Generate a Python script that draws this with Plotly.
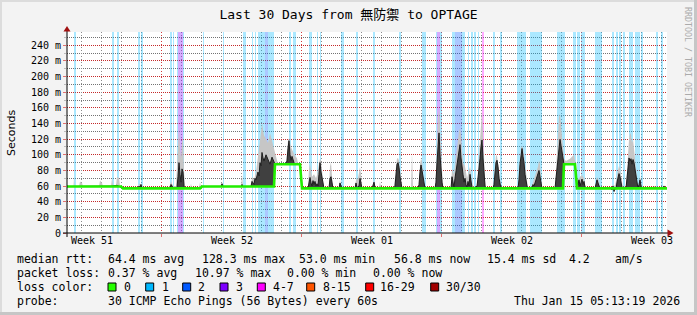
import plotly.graph_objects as go

# ---------------- data (time axis in days since start of window) ----------------
loss_start = [0.325, 2.25, 2.5, 3.55, 3.7, 5.15, 5.275, 5.5, 5.55, 5.8, 6.8, 7.8, 8.8, 9.25, 9.4, 9.55, 9.9, 10.05,
              11.1, 11.3, 12.1, 12.5, 12.65, 13.7, 14.45, 15.3, 16.6, 17.75, 17.85, 18.45, 18.5, 18.65, 19.25, 19.4,
              19.75, 20.025, 20.2, 20.35, 20.525, 20.75, 21.3, 21.65, 22.5, 23.15, 24.5, 25.3, 25.5, 25.7, 26.4,
              27.25, 27.425, 27.6, 27.8, 28.1, 28.375, 28.7, 29.425, 29.7]
loss_end = [0.425, 2.35, 2.6, 3.65, 3.8, 5.25, 5.35, 5.55, 5.8, 5.85, 6.85, 7.85, 8.95, 9.3, 9.45, 9.9, 10.05, 10.35,
            11.2, 11.45, 12.25, 12.55, 12.7, 13.85, 14.525, 15.4, 16.7, 17.825, 17.925, 18.5, 18.65, 18.75, 19.4, 19.75,
            19.9, 20.1, 20.275, 20.45, 20.6, 20.825, 21.4, 21.75, 22.95, 23.75, 24.875, 25.425, 25.65, 25.875, 26.75,
            27.35, 27.525, 27.7, 27.9, 28.3, 28.65, 28.8, 29.525, 29.775]
loss_level = [1, 1, 1, 1, 1, 1, 1, 1, 3, 1, 1, 1, 1, 1, 1, 1, 2, 1,
              1, 1, 1, 1, 1, 1, 1, 1, 1, 1, 1, 1, 3, 1, 1, 2,
              1, 1, 1, 1, 1, 4, 1, 1, 1, 1, 1, 1, 1, 1, 1,
              1, 1, 1, 1, 1, 1, 1, 1, 1]

med_t = [0, 2.2, 2.25, 2.5, 2.6, 2.7, 2.8, 3.55, 3.6, 3.65, 3.7, 3.75, 5.15, 5.2, 5.3, 5.4, 5.5, 5.55, 5.6, 5.65,
         5.7, 5.75, 5.8, 5.85, 5.9, 6.65, 6.75, 7.7, 7.75, 7.8, 8.7, 8.75, 8.8, 9.2, 9.25, 9.35, 9.4, 9.45, 9.55,
         9.6, 9.65, 9.7, 9.75, 9.8, 9.85, 9.95, 10.05, 10.15, 10.25, 10.35, 10.4, 10.9, 11.0, 11.05, 11.1, 11.15,
         11.2, 11.25, 11.3, 11.35, 11.4, 11.65, 11.7, 11.75,
         12.05, 12.1, 12.15, 12.2, 12.25, 12.3, 12.35, 12.4, 12.45, 12.5, 12.55, 12.6, 12.65, 12.7, 12.75, 12.8,
         12.85, 13.1, 13.15, 13.2, 13.25, 13.3, 13.6, 13.65, 13.7, 13.75, 14.4, 14.45, 14.5, 14.6, 14.65, 14.7, 14.75,
         15.25, 15.3, 15.35, 15.4, 15.45, 15.65, 15.7, 15.75, 16.35, 16.4, 16.45, 16.5, 16.55, 16.6, 16.65, 16.7,
         16.75, 17.55, 17.6, 17.65, 17.7, 17.75, 17.8, 17.85, 17.9, 18.4, 18.45, 18.5, 18.55, 18.6, 18.65, 18.7,
         18.75, 18.8, 19.2, 19.25, 19.3, 19.35, 19.4, 19.45, 19.5, 19.55, 19.6, 19.65, 19.7, 19.75, 19.8, 19.85,
         19.9, 19.95, 20.0, 20.05, 20.1, 20.15, 20.2, 20.25, 20.35, 20.5, 20.55, 20.6, 20.65, 20.7, 20.75, 20.8,
         20.85, 20.9, 20.95,
         21.3, 21.35, 21.4, 21.45, 21.5, 21.55, 21.6, 21.65, 21.7, 22.55, 22.6, 22.65, 22.7, 22.75, 22.8, 22.85,
         22.9, 22.95, 23.0, 23.05, 23.2, 23.25, 23.3, 23.35, 23.4, 23.45, 23.5, 23.55, 23.6, 23.65, 23.7, 23.75,
         24.4, 24.45, 24.5, 24.55, 24.6, 24.65, 24.7, 24.75, 24.8, 24.85, 25.4, 25.45, 25.5, 25.55, 25.6, 25.65,
         25.7, 25.75, 25.8, 25.85, 25.9, 25.95, 26.4, 26.45, 26.5, 26.55, 26.6, 26.65, 27.2, 27.25, 27.3, 27.35,
         27.4, 27.45, 27.5, 27.55, 27.6, 27.65, 27.7, 27.75, 27.8, 27.95, 28.0, 28.05, 28.1, 28.15, 28.2, 28.25,
         28.3, 28.35, 28.4, 28.45, 28.5, 28.55, 28.6, 28.65, 28.7, 28.75, 29.35, 29.4, 29.45, 29.8, 29.85, 29.9, 30.0]
med_v = [59.5, 59.5, 60, 61, 60, 58, 57, 57, 60, 58, 62, 57, 57, 62, 58, 57, 58, 72, 90, 75,
         65, 82, 78, 60, 57, 57, 59.5, 59.5, 63, 59.5, 59.5, 62, 59.5, 59.5, 66, 62, 70, 68, 78,
         73, 90, 86, 103, 96, 92, 100, 94, 88, 97, 90, 88, 88, 92, 108, 118, 100,
         93, 98, 92, 90, 88, 88, 75, 57,
         57, 67, 71, 64, 60, 67, 62, 66, 60, 63, 60, 75, 90, 78, 72, 62,
         57, 57, 70, 72, 60, 57, 57, 64, 60, 57, 57, 64, 58, 60, 70, 64, 57,
         57, 62, 65, 58, 57, 57, 59, 57, 57, 60, 78, 88, 90, 84, 72, 62,
         57, 57, 62, 78, 87, 80, 70, 60, 57, 57, 65, 90, 112, 128, 100, 80,
         65, 57, 57, 72, 65, 58, 70, 80, 90, 100, 108, 113, 96, 82, 75, 65,
         70, 62, 58, 66, 60, 75, 62, 58, 57, 60, 70, 80, 95, 110, 119, 96,
         75, 60, 57,
         57, 62, 80, 90, 93, 85, 70, 62, 57, 57, 68, 88, 100, 108, 98, 90,
         75, 65, 60, 57, 57, 58, 62, 60, 64, 66, 70, 76, 80, 72, 63, 57,
         57, 70, 85, 100, 110, 120, 112, 104, 95, 88, 88, 75, 64, 62, 68, 60,
         66, 69, 62, 66, 58, 57, 57, 62, 68, 64, 60, 57, 57, 55, 60, 53,
         57, 56, 65, 70, 76, 72, 63, 58, 57, 57, 70, 85, 96, 92, 95, 88,
         94, 90, 80, 70, 60, 57, 62, 68, 60, 57, 57, 59, 57, 57, 60, 57, 56.8]

base_t = [0, 2.7, 2.8, 6.65, 6.75, 10.35, 10.4, 11.65, 11.75, 24.8, 24.85, 25.4, 25.5, 30.0]
base_v = [59.5, 59.5, 57, 57, 59.5, 59.5, 88, 88, 57, 57, 88, 88, 57, 57]

smoke_t = [0, 0.325, 0.35, 0.375, 0.6, 0.65, 0.75, 0.8, 1.6, 1.65, 1.75, 1.8, 2.2, 2.25, 2.3, 2.45, 2.5, 2.6, 2.65,
           2.7, 2.8, 3.55, 3.6, 3.75, 3.8, 5.1, 5.2, 5.3, 5.45, 5.55, 5.6, 5.65, 5.7, 5.75, 5.8, 5.85, 5.9,
           6.15, 6.2, 6.25, 6.6, 6.65, 6.7, 6.75, 7.7, 7.75, 7.8, 8.7, 8.75, 8.8, 9.2, 9.25, 9.35, 9.45, 9.55,
           9.65, 9.75, 9.85, 9.95, 10.05, 10.15, 10.25, 10.35, 10.45, 10.55, 10.65, 10.95, 11.05, 11.1, 11.2,
           11.3, 11.4, 11.5, 11.55, 11.65, 11.7, 11.75,
           12.05, 12.1, 12.15, 12.25, 12.35, 12.45, 12.5, 12.6, 12.65, 12.7, 12.8, 12.85, 13.1, 13.15, 13.2,
           13.25, 13.3, 13.6, 13.65, 13.7, 14.4, 14.45, 14.55, 14.65, 14.7, 14.75, 15.3, 15.35, 15.4, 15.6,
           15.65, 15.7, 16.35, 16.45, 16.5, 16.55, 16.6, 16.65, 16.75, 17.2, 17.25, 17.3, 17.6, 17.65, 17.7,
           17.75, 17.8, 17.85, 17.9, 18.4, 18.45, 18.5, 18.55, 18.6, 18.65, 18.7, 18.75, 18.8, 19.2, 19.25,
           19.35, 19.45, 19.55, 19.6, 19.65, 19.7, 19.75, 19.8, 19.9, 20.0, 20.15, 20.25, 20.35, 20.5, 20.55,
           20.65, 20.7, 20.75, 20.8, 20.85, 20.9, 20.95,
           21.3, 21.35, 21.4, 21.45, 21.5, 21.55, 21.65, 21.7, 22.55, 22.6, 22.65, 22.7, 22.75, 22.8, 22.85,
           22.95, 23.05, 23.2, 23.35, 23.45, 23.55, 23.6, 23.65, 23.7, 23.75, 24.4, 24.45, 24.5, 24.55, 24.6,
           24.65, 24.7, 24.75, 24.8, 24.85, 24.95, 25.15, 25.35, 25.4, 25.45, 25.5, 25.55, 25.65, 25.75, 25.85,
           25.95, 26.4, 26.45, 26.5, 26.6, 26.65, 27.2, 27.3, 27.4, 27.5, 27.55, 27.6, 27.65, 27.75, 27.8,
           27.95, 28.0, 28.05, 28.1, 28.15, 28.2, 28.25, 28.3, 28.35, 28.4, 28.5, 28.55, 28.65, 28.7, 28.75,
           29.35, 29.4, 29.45, 29.8, 29.85, 29.9, 30.0]
smoke_v = [59.5, 59.5, 71, 59.5, 59.5, 66, 64, 59.5, 59.5, 67, 64, 59.5, 59.5, 70, 60, 60, 72, 70, 60,
           58, 57, 57, 63, 62, 57, 57, 66, 60, 60, 100, 135, 110, 95, 115, 121, 80, 57,
           57, 63, 57, 57, 65, 58, 59.5, 59.5, 65, 59.5, 59.5, 74, 59.5, 59.5, 72, 68, 78, 95,
           118, 140, 125, 120, 115, 128, 118, 105, 95, 88, 88, 88, 118, 121, 110,
           105, 98, 96, 88, 88, 80, 57,
           57, 82, 89, 72, 75, 70, 74, 88, 95, 92, 70, 57, 57, 85, 90,
           75, 57, 57, 68, 57, 57, 68, 70, 84, 75, 57, 57, 70, 57, 57,
           66, 57, 57, 85, 95, 96, 92, 80, 57, 57, 103, 57, 57, 88, 95,
           92, 78, 60, 57, 57, 80, 125, 150, 159, 130, 100, 80, 57, 57, 82,
           75, 100, 122, 130, 134, 125, 105, 90, 85, 70, 85, 65, 57, 57, 80,
           115, 140, 157, 125, 90, 70, 57,
           57, 70, 92, 100, 98, 90, 70, 57, 57, 80, 98, 108, 112, 108, 98,
           75, 57, 57, 68, 75, 85, 93, 88, 72, 57, 57, 85, 110, 135, 148,
           152, 140, 125, 108, 95, 92, 95, 100, 92, 85, 70, 68, 72, 74, 70,
           57, 57, 68, 72, 66, 57, 57, 62, 60, 72, 80, 86, 82, 65, 57,
           57, 85, 105, 120, 128, 126, 115, 120, 108, 95, 70, 57, 72, 62, 57,
           57, 60, 57, 57, 62, 57, 57]

loss_labels = ["0", "1", "2", "3", "4-7", "8-15", "16-29", "30/30"]
loss_colors = ["#26ff00", "#00b8ff", "#0059ff", "#7e00ff", "#ff00ff", "#ff5500", "#ff0000", "#a10000"]

y_ticks = [0, 20, 40, 60, 80, 100, 120, 140, 160, 180, 200, 220, 240]
y_tick_text = ["0", "20 m", "40 m", "60 m", "80 m", "100 m", "120 m", "140 m", "160 m", "180 m",
               "200 m", "220 m", "240 m"]
week_pos = [1.25, 8.25, 15.25, 22.25, 29.25]
week_labels = ["Week 51", "Week 52", "Week 01", "Week 02", "Week 03"]
week_grid = [4.7, 11.7, 18.7, 25.7]
day_grid = [0.7 + k for k in range(30) if k % 7 != 4]

rtt_values = [64.4, 128.3, 53.0, 56.8, 15.4]
rtt_names = ["avg", "max", "min", "now", "sd"]
am_per_s = 4.2
pl_values = [0.37, 10.97, 0.00, 0.00]
pl_names = ["avg", "max", "min", "now"]
probe_text = "30 ICMP Echo Pings (56 Bytes) every 60s"
stamp_text = "Thu Jan 15 05:13:19 2026"
title_text = "Last 30 Days from 無防禦 to OPTAGE"

# ---------------- styling helpers ----------------
W, H = 697, 315
PL, PR, PT, PB = 67, 667, 32, 233
MONO = "DejaVu Sans Mono, Noto Sans CJK JP, monospace"
DOT = "1px,2px"
MAJ = "#d23c3c"
MIN = "#8c8c8c"
YDOT = "1px,1px"
YMAJ = "#c42a2a"
YMIN = "#737373"


def px(x):
    return (x - PL) / (PR - PL)


def py(y):
    return (PB - y) / (PB - PT)


def rgba(hexc, a):
    h = hexc.lstrip("#")
    return "rgba(%d,%d,%d,%.2f)" % (int(h[0:2], 16), int(h[2:4], 16), int(h[4:6], 16), a)


fig = go.Figure()

# loss background bars
fig.add_trace(go.Bar(
    x=[(s + e) / 2 for s, e in zip(loss_start, loss_end)],
    y=[257] * len(loss_start),
    width=[e - s for s, e in zip(loss_start, loss_end)],
    marker=dict(color=[rgba(loss_colors[l], 0.33) for l in loss_level], line=dict(width=0)),
    hoverinfo="skip",
))

# light smoke envelope
fig.add_trace(go.Scatter(x=base_t, y=base_v, mode="lines", line=dict(width=0), hoverinfo="skip"))
fig.add_trace(go.Scatter(x=smoke_t, y=smoke_v, mode="lines", line=dict(width=0), fill="tonexty",
                         fillcolor="#c6c6c6", hoverinfo="skip"))
# dark core between baseline and median
fig.add_trace(go.Scatter(x=base_t, y=base_v, mode="lines", line=dict(width=0), hoverinfo="skip"))
fig.add_trace(go.Scatter(x=med_t, y=med_v, mode="lines", line=dict(width=1, color="#1e1e1e"), fill="tonexty",
                         fillcolor="rgba(45,45,45,0.88)", hoverinfo="skip"))
# green median (no loss) line
fig.add_trace(go.Scatter(x=base_t, y=base_v, mode="lines", line=dict(width=2.6, color="#22ee00"), hoverinfo="skip"))
# carriers for the week-label axis and the daily-grid axis
fig.add_trace(go.Scatter(x=week_pos, y=[None] * len(week_pos), xaxis="x2", mode="lines", hoverinfo="skip"))
fig.add_trace(go.Scatter(x=day_grid, y=[None] * len(day_grid), xaxis="x3", mode="lines", hoverinfo="skip"))

shapes = []
# axis extensions and arrows
shapes.append(dict(type="line", xref="paper", yref="paper", x0=px(63), x1=px(669), y0=py(233), y1=py(233),
                   line=dict(color="#000", width=1)))
shapes.append(dict(type="line", xref="paper", yref="paper", x0=px(67), x1=px(67), y0=py(237), y1=py(29),
                   line=dict(color="#000", width=1)))
shapes.append(dict(type="path", xref="paper", yref="paper", fillcolor="#a01010", line=dict(width=0),
                   path="M %f %f L %f %f L %f %f Z" % (px(63.5), py(31.5), px(70.5), py(31.5), px(67), py(26))))
shapes.append(dict(type="path", xref="paper", yref="paper", fillcolor="#a01010", line=dict(width=0),
                   path="M %f %f L %f %f L %f %f Z" % (px(667.5), py(229.5), px(667.5), py(236.5), px(673.5), py(233))))
# frame
shapes.append(dict(type="line", xref="paper", yref="paper", x0=px(0), x1=px(697), y0=py(1), y1=py(1),
                   line=dict(color="#dcdcdc", width=2)))
shapes.append(dict(type="line", xref="paper", yref="paper", x0=px(1), x1=px(1), y0=py(0), y1=py(315),
                   line=dict(color="#dcdcdc", width=2)))
shapes.append(dict(type="line", xref="paper", yref="paper", x0=px(0), x1=px(697), y0=py(313.5), y1=py(313.5),
                   line=dict(color="#c6c6c6", width=3)))
shapes.append(dict(type="line", xref="paper", yref="paper", x0=px(695.5), x1=px(695.5), y0=py(0), y1=py(315),
                   line=dict(color="#c6c6c6", width=3)))

# legend boxes
box_x = [108, 145.7, 182.7, 220, 257.3, 306.7, 365.7, 430.7]
lab_x = [123.3, 160.7, 197.3, 235, 272.3, 321.7, 379.3, 445]
for bx, col in zip(box_x, loss_colors):
    shapes.append(dict(type="rect", xref="paper", yref="paper", x0=px(bx), x1=px(bx + 8), y0=py(291), y1=py(283),
                       fillcolor=col, line=dict(color="#000", width=1)))

ann = []


def txt(x, y, s, size=11.5, anchor="left", **kw):
    ann.append(dict(x=px(x), y=py(y), xref="paper", yref="paper", text=s, showarrow=False, xanchor=anchor,
                    yanchor="middle", font=dict(family=kw.pop("family", MONO), size=size,
                                                color=kw.pop("color", "#000")), borderpad=0, **kw))


# line 1
txt(16, 259, "median rtt:")
l1x = [107, 201, 298, 393, 486]
for x, v, n in zip(l1x, rtt_values, rtt_names):
    txt(x, 259, "%.1f ms %s" % (v, n))
txt(568, 259, "%.1f" % am_per_s)
txt(614, 259, "am/s")
# line 2
txt(16, 273, "packet loss:")
for x, v, n in zip([107, 194, 286, 372], pl_values, pl_names):
    txt(x, 273, "%.2f %% %s" % (v, n))
# line 3
txt(16, 287, "loss color:")
for x, lab in zip(lab_x, loss_labels):
    txt(x, 287, lab)
# line 4
txt(16, 301, "probe:")
txt(107, 301, probe_text)
txt(513, 301, stamp_text)
# axis title and watermark
txt(11, 133, "Seconds", size=11, anchor="center", family="DejaVu Sans", textangle=-90)
txt(688, 62, "RRDTOOL / TOBI OETIKER", size=8.3, anchor="center", color="#ababab", textangle=90)

fig.update_layout(
    width=W, height=H, margin=dict(l=PL, r=W - PR, t=PT, b=H - PB, pad=0),
    paper_bgcolor="#f3f3f3", plot_bgcolor="#ffffff", showlegend=False, bargap=0,
    title=dict(text=title_text, x=0.5, xanchor="center", xref="container", yref="container",
               y=1 - 14 / H, yanchor="middle", font=dict(family=MONO, size=13, color="#000")),
    xaxis=dict(range=[0, 30], tickmode="array", tickvals=week_grid, showticklabels=False,
               ticks="outside", ticklen=3, tickcolor="#e07070", showgrid=True, gridcolor=MAJ,
               griddash=DOT, gridwidth=1, zeroline=False, showline=False),
    xaxis2=dict(range=[0, 30], overlaying="x", anchor="y", side="bottom", tickmode="array",
                tickvals=week_pos, ticktext=week_labels, showgrid=False, zeroline=False, showline=False,
                ticks="", tickfont=dict(family=MONO, size=10, color="#000")),
    xaxis3=dict(range=[0, 30], overlaying="x", anchor="y", side="bottom", tickmode="array",
                tickvals=day_grid, showticklabels=False, showgrid=True, gridcolor=MIN,
                griddash=DOT, gridwidth=1, zeroline=False, showline=False, ticks=""),
    yaxis=dict(range=[0, 257], tickmode="array", tickvals=y_ticks, ticktext=y_tick_text,
               ticks="outside", ticklen=3, tickcolor="#e07070", showgrid=True, gridcolor=YMAJ,
               griddash=YDOT, gridwidth=1, zeroline=False, showline=False,
               tickfont=dict(family=MONO, size=10, color="#000"),
               minor=dict(tickmode="linear", tick0=0, dtick=10, showgrid=True, gridcolor=YMIN,
                          griddash=YDOT, ticks="outside", ticklen=2, tickcolor="#bbbbbb")),
    shapes=shapes, annotations=ann,
)

fig.write_html("out.html")
